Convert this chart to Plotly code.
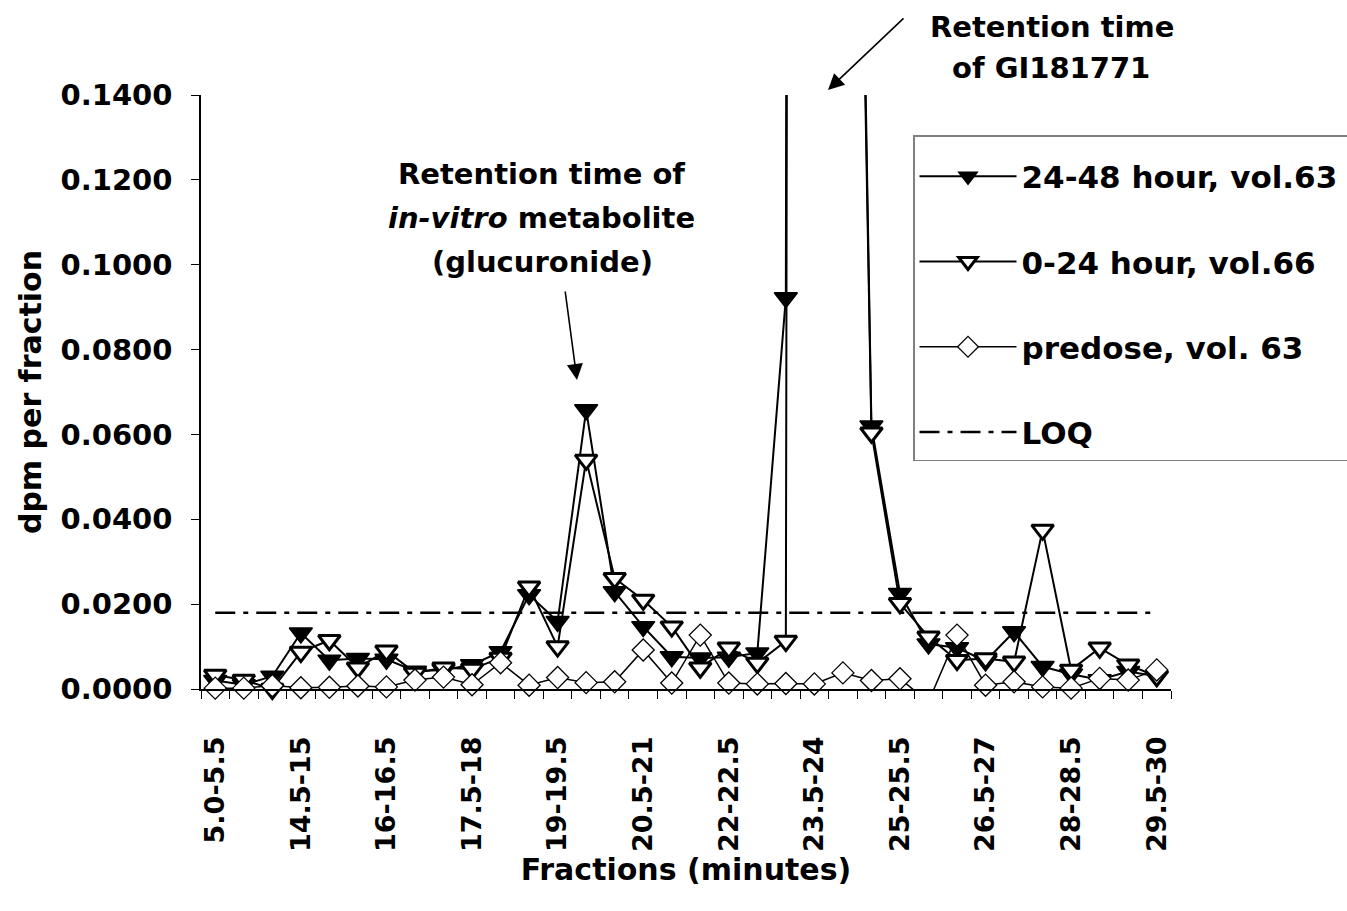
import plotly.graph_objects as go

# ---------------- data ----------------
fractions = ["5.0-5.5", "5.5-14", "14-14.5", "14.5-15", "15-15.5", "15.5-16", "16-16.5",
             "16.5-17", "17-17.5", "17.5-18", "18-18.5", "18.5-19", "19-19.5", "19.5-20",
             "20-20.5", "20.5-21", "21-21.5", "21.5-22", "22-22.5", "22.5-23", "23-23.5",
             "23.5-24", "24-24.5", "24.5-25", "25-25.5", "25.5-26", "26-26.5", "26.5-27",
             "27-27.5", "27.5-28", "28-28.5", "28.5-29", "29-29.5", "29.5-30"]

tick_labels = ["5.0-5.5", "", "", "14.5-15", "", "", "16-16.5", "", "", "17.5-18", "", "",
               "19-19.5", "", "", "20.5-21", "", "", "22-22.5", "", "", "23.5-24", "", "",
               "25-25.5", "", "", "26.5-27", "", "", "28-28.5", "", "", "29.5-30"]

h24_48_vol63 = [0.0020, 0.0010, 0.0030, 0.0132, 0.0068, 0.0072, 0.0070, 0.0042, 0.0045, 0.0057,
                0.0088, 0.0222, 0.0159, 0.0658, 0.0229, 0.0147, 0.0076, 0.0073, 0.0075, 0.0085,
                0.0922, 4.0000, 0.4500, 0.0620, 0.0225, 0.0106, 0.0097, 0.0066, 0.0135, 0.0053,
                0.0035, 0.0022, 0.0041, 0.0030]

h0_24_vol66 = [0.0033, 0.0021, 0.0000, 0.0087, 0.0115, 0.0050, 0.0090, 0.0038, 0.0050, 0.0047,
               0.0073, 0.0241, 0.0100, 0.0540, 0.0261, 0.0210, 0.0147, 0.0050, 0.0097, 0.0061,
               0.0113, 3.8000, 0.4300, 0.0604, 0.0202, 0.0123, 0.0068, 0.0072, 0.0064, 0.0375,
               0.0045, 0.0097, 0.0057, 0.0030]

predose_vol63 = [0.0002, 0.0002, 0.0008, 0.0003, 0.0004, 0.0007, 0.0005, 0.0021, 0.0028, 0.0010,
                 0.0062, 0.0009, 0.0027, 0.0015, 0.0017, 0.0092, 0.0014, 0.0127, 0.0014, 0.0012,
                 0.0013, 0.0012, 0.0038, 0.0020, 0.0024, -0.0030, 0.0127, 0.0009, 0.0017, 0.0005,
                 0.0002, 0.0025, 0.0021, 0.0045]

LOQ = 0.018
loq_values = [LOQ] * len(fractions)

series_names = ["24-48 hour, vol.63", "0-24 hour, vol.66", "predose, vol. 63", "LOQ"]

# ---------------- figure ----------------
FONT = "DejaVu Sans"
W, H = 1347, 911
ML, MR, MT, MB = 201, 176, 95, 222
PW, PH = W - ML - MR, H - MT - MB


def px(xp):
    return (xp - ML) / PW


def py(yp):
    return (H - MB - yp) / PH


fig = go.Figure()

fig.add_trace(go.Scatter(
    x=fractions, y=h24_48_vol63, name=series_names[0], mode="lines+markers",
    line=dict(color="black", width=2),
    marker=dict(symbol="triangle-down", size=20, color="black", line=dict(color="black", width=1.5)),
    cliponaxis=False, legendgroup="a"))

fig.add_trace(go.Scatter(
    x=fractions, y=h0_24_vol66, name=series_names[1], mode="lines+markers",
    line=dict(color="black", width=2),
    marker=dict(symbol="triangle-down", size=19, color="white", line=dict(color="black", width=3)),
    cliponaxis=False, legendgroup="b"))

fig.add_trace(go.Scatter(
    x=fractions, y=predose_vol63, name=series_names[2], mode="lines+markers",
    line=dict(color="black", width=1.5),
    marker=dict(symbol="diamond", size=17, color="white", line=dict(color="black", width=1.3),
                opacity=[1 if v >= 0 else 0 for v in predose_vol63]),
    cliponaxis=False, legendgroup="c"))

fig.add_trace(go.Scatter(
    x=fractions, y=loq_values, name=series_names[3], mode="lines",
    line=dict(color="black", width=2.5, dash="20px,8px,5px,8px"),
    legendgroup="d"))

# annotations: text
txt_font = dict(family=FONT, size=29, color="black", weight="bold")
texts = [
    ("Retention time", 1052, 27),
    ("of GI181771", 1051, 68),
    ("Retention time of", 541, 174),
    ("<i>in-vitro</i> metabolite", 541, 218),
    ("(glucuronide)", 542, 262),
]
annotations = []
for t, xp_, yp_ in texts:
    annotations.append(dict(text=t, x=px(xp_), y=py(yp_), xref="paper", yref="paper",
                            xanchor="center", yanchor="middle", showarrow=False, font=txt_font))

# arrows (head, tail in pixels)
arrows = [((828, 90), (905, 17)), ((577, 380), (565, 290))]
for (hx, hy), (tx, ty) in arrows:
    annotations.append(dict(text="", x=px(hx), y=py(hy), xref="paper", yref="paper",
                            ax=tx - hx, ay=ty - hy, axref="pixel", ayref="pixel",
                            showarrow=True, arrowhead=2, arrowsize=2, arrowwidth=1.6,
                            arrowcolor="black", standoff=0))

spacer = "&nbsp;" * 170

fig.update_layout(
    width=W, height=H,
    margin=dict(l=ML, r=MR, t=MT, b=MB, autoexpand=False),
    paper_bgcolor="white", plot_bgcolor="white",
    font=dict(family=FONT, color="black", weight="bold"),
    showlegend=True,
    legend=dict(x=px(913), y=py(135), xanchor="left", yanchor="top",
                bgcolor="white", bordercolor="#808080", borderwidth=1.5,
                font=dict(family=FONT, size=31, color="black", weight="bold"),
                title=dict(text=spacer, font=dict(family=FONT, size=10, color="white")),
                traceorder="grouped", tracegroupgap=42, itemwidth=97),
    annotations=annotations,
)

fig.update_xaxes(
    type="category", categoryorder="array", categoryarray=fractions,
    range=[-0.5, len(fractions) - 0.5],
    showline=True, linecolor="black", linewidth=1.5, mirror=False,
    ticks="outside", ticklen=8, tickwidth=1, tickcolor="black", tickson="boundaries",
    tickmode="array", tickvals=fractions, ticktext=tick_labels, tickangle=-90,
    ticklabelstandoff=35,
    tickfont=dict(family=FONT, size=27, color="black", weight="bold"),
    showgrid=False, zeroline=False,
    title=dict(text="Fractions (minutes)", standoff=0,
               font=dict(family=FONT, size=30, color="black", weight="bold")),
)

fig.update_yaxes(
    range=[0, 0.14], tick0=0, dtick=0.02, tickformat=".4f",
    showline=True, linecolor="black", linewidth=1.5,
    ticks="outside", ticklen=8, tickwidth=1, tickcolor="black",
    ticklabelstandoff=13,
    tickfont=dict(family=FONT, size=29, color="black", weight="bold"),
    showgrid=False, zeroline=False,
    title=dict(text="dpm per fraction", standoff=10,
               font=dict(family=FONT, size=30, color="black", weight="bold")),
)

fig.write_html("out.html")
